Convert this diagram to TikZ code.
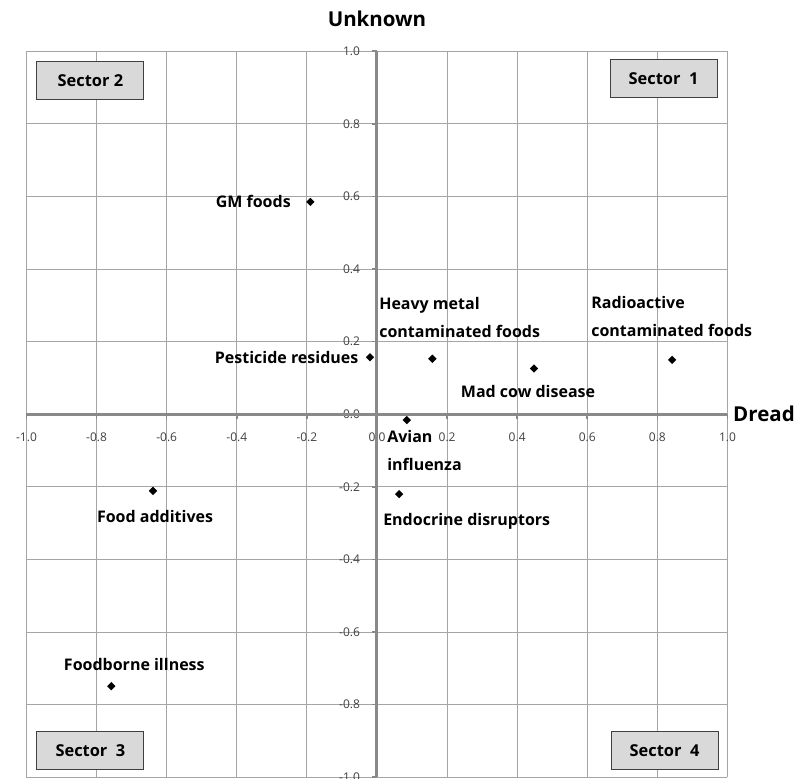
\documentclass[tikz,border=0pt]{standalone}
\usepackage{fontspec}
\setmainfont{Open Sans}
\usetikzlibrary{positioning, shapes.geometric}

\definecolor{gridgray}{RGB}{165,165,165}
\definecolor{axisgray}{RGB}{137,137,137}
\definecolor{boxgray}{RGB}{217,217,217}

\begin{document}
\begin{tikzpicture}
            [x=350.5pt, y=363pt,
            gridline/.style={draw=gridgray, line width=1.1pt},
            axisline/.style={draw=axisgray, line width=3pt},
            tickmark/.style={draw=axisgray, line width=1.6pt},
            ticklabel/.style={
                font=\fontsize{12}{14}\selectfont,
                text=black!75,
                inner sep=0pt
            },
            point/.style={
                diamond,
                fill=black,
                inner sep=0pt,
                minimum size=8.5pt
            },
            item/.style={
                font=\fontsize{16}{28}\selectfont\bfseries,
                align=left,
                inner sep=0pt
            },
            sector/.style={
                draw=black!75,
                fill=boxgray,
                line width=0.9pt,
                minimum width=107pt,
                minimum height=38pt,
                font=\fontsize{16.4}{18}\selectfont\bfseries
            },
            axistitle/.style={font=\fontsize{20.5}{24}\selectfont\bfseries, inner sep=0pt}
            ]

            \useasboundingbox (-1.0756,-1.0047) rectangle (1.1926,1.1413);

            % grid and ticks
            \foreach \v in {-1.0,-0.8,-0.6,-0.4,-0.2,0.0,0.2,0.4,0.6,0.8,1.0}{
                \draw [gridline] (\v,-1) -- (\v,1);
                \draw [gridline] (-1,\v) -- (1,\v);
                \draw [tickmark] ([xshift=-5pt]0,\v) -- (0,\v);
                \draw [tickmark] ([yshift=-5pt]\v,0) -- (\v,0);
                \node[ticklabel] (xtick\v) at (\v,-0.062) {\v};
                \node[ticklabel, anchor=east] (ytick\v) at (-0.048,\v) {\v};
            }

            % axes
            \coordinate (xleft) at (-1,0);
            \coordinate (xright) at (1,0);
            \coordinate (ybottom) at (0,-1);
            \coordinate (ytop) at (0,1);
            \draw [axisline] (xleft) -- (xright);
            \draw [axisline] (ybottom) -- (ytop);
            \node[axistitle, above=24pt of ytop] (unknown) {Unknown};
            \node[axistitle, right=5.5pt of xright] (dread) {Dread};

            % sector boxes
            \coordinate (tl) at (-1,1);
            \coordinate (tr) at (1,1);
            \coordinate (bl) at (-1,-1);
            \coordinate (br) at (1,-1);
            \node[sector, below right=10pt and 10pt of tl] (sector2) {Sector 2};
            \node[sector, below left=7.6pt and 10pt of tr] (sector1) {Sector\ \ 1};
            \node[sector, above right=7pt and 10pt of bl] (sector3) {Sector\ \ 3};
            \node[sector, above left=7pt and 9pt of br] (sector4) {Sector\ \ 4};

            % data points
            \foreach \name/\px/\py in {gm/-0.19/0.585, pest/-0.02/0.157, metal/0.158/0.153,
                    madcow/0.448/0.126, radio/0.842/0.15, avian/0.085/-0.016,
                    endo/0.063/-0.22, additive/-0.639/-0.211, foodborne/-0.758/-0.749}{
                \node[point] (\name) at (\px,\py) {};
            }

            \node[item, left=15pt of gm] (gmlabel) {GM foods};
            \node[item, left=7pt of pest] (pestlabel) {Pesticide residues};
            \node[item, above right=16.5pt and -53.3pt of metal.north] (metallabel) {Heavy metal\\contaminated foods};
            \node[item, above right=18.5pt and -81pt of radio.north] (radiolabel) {Radioactive\\contaminated foods};
            \node[item, below=12pt of madcow, xshift=-6pt] (madcowlabel) {Mad cow disease};
            \node[item, below right=6pt and -19.7pt of avian.south] (avianlabel) {Avian\\influenza};
            \node[item, below right=15pt and -16pt of endo.south] (endolabel) {Endocrine disruptors};
            \node[item, below=15pt of additive, xshift=2pt] (additivelabel) {Food additives};
            \node[item, above=11pt of foodborne, xshift=23pt] (foodbornelabel) {Foodborne illness};
\end{tikzpicture}
\end{document}
